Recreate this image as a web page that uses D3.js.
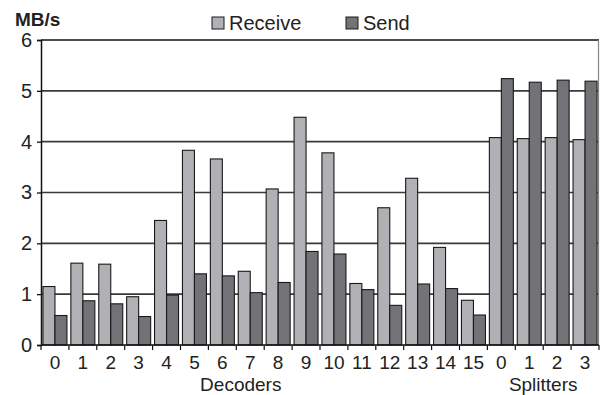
<!DOCTYPE html>
<html>
<head>
<meta charset="utf-8">
<script src="https://cdn.jsdelivr.net/npm/d3@7"></script>
<style>
body { margin:0; background:#fff; }
text { font-family: "Liberation Sans", Arial, sans-serif; fill:#222; }
</style>
</head>
<body>
<div id="chart"></div>
<script>
// bandwidth per node, decoders then splitters

var labels = ["0","1","2","3","4","5","6","7","8","9","10","11","12","13","14","15","0","1","2","3"];
var receive = [1.15,1.61,1.59,0.95,2.45,3.83,3.66,1.45,3.07,4.48,3.78,1.21,2.70,3.28,1.92,0.88,4.08,4.06,4.08,4.04];
var send    = [0.58,0.87,0.81,0.56,0.98,1.40,1.36,1.03,1.23,1.84,1.79,1.09,0.78,1.20,1.11,0.59,5.24,5.17,5.21,5.19];
var yTicks = [0,1,2,3,4,5,6];
var series = ["Receive","Send"];
var colors = ["#b1b1b5","#737377"];

var w = 600,
    h = 395;

var margin = {top:40, right:1, bottom:50, left:41};

var svg = d3.select("#chart")
            .append("svg")
            .attr("width",w)
            .attr("height",h);

var x = d3.scaleBand()
          .domain(d3.range(labels.length))
          .range([margin.left, w - margin.right])
          .paddingInner(0.14)
          .paddingOuter(0.07);

var xs = d3.scaleBand()
           .domain(series)
           .range([0, x.bandwidth()]);

var y = d3.scaleLinear()
          .domain([0,6])
          .range([h - margin.bottom, margin.top]);

// grid lines
svg.append("g")
   .selectAll("line")
   .data(yTicks.slice(1, -1))
   .enter()
   .append("line")
   .attr("x1", margin.left)
   .attr("x2", w - margin.right)
   .attr("y1", function(d){ return y(d); })
   .attr("y2", function(d){ return y(d); })
   .attr("stroke", "#3a3a3a")
   .attr("stroke-width", 1.6);

// top border and right border
svg.append("line")
   .attr("x1", margin.left).attr("x2", w - margin.right)
   .attr("y1", y(6)).attr("y2", y(6))
   .attr("stroke", "#111").attr("stroke-width", 1.3);
svg.append("line")
   .attr("x1", w - margin.right - 0.5).attr("x2", w - margin.right - 0.5)
   .attr("y1", y(6)).attr("y2", y(0))
   .attr("stroke", "#888").attr("stroke-width", 1.2);

// bars
var groups = svg.append("g")
   .selectAll("g")
   .data(labels.map(function(l, i){ return i; }))
   .enter()
   .append("g")
   .attr("transform", function(i){ return "translate(" + x(i) + ",0)"; });

groups.selectAll("rect")
   .data(function(i){ return [{k:"Receive", v:receive[i]}, {k:"Send", v:send[i]}]; })
   .enter()
   .append("rect")
   .attr("x", function(d){ return xs(d.k); })
   .attr("width", xs.bandwidth())
   .attr("y", function(d){ return y(d.v); })
   .attr("height", function(d){ return y(0) - y(d.v); })
   .attr("fill", function(d, j){ return colors[j]; })
   .attr("stroke", "#1a1a1a")
   .attr("stroke-width", 1.1);

// y axis
var yAxis = svg.append("g")
   .attr("transform", "translate(" + margin.left + ",0)")
   .call(d3.axisLeft(y).tickValues(yTicks).tickSize(4).tickPadding(5).tickFormat(d3.format("d")));
yAxis.select(".domain").attr("stroke", "#111").attr("stroke-width", 1.5);
yAxis.selectAll(".tick line").attr("stroke", "#111").attr("stroke-width", 1.3);
yAxis.selectAll("text").attr("font-size", "20px").attr("fill", "#222");

// x axis: baseline plus ticks at the category boundaries
var x0 = svg.append("g");
x0.append("line")
  .attr("x1", margin.left).attr("x2", w - margin.right)
  .attr("y1", y(0)).attr("y2", y(0))
  .attr("stroke", "#111").attr("stroke-width", 1.5);
x0.selectAll(".xt")
  .data(d3.range(labels.length + 1))
  .enter()
  .append("line")
  .attr("class", "xt")
  .attr("x1", function(i){ return margin.left + i * x.step(); })
  .attr("x2", function(i){ return margin.left + i * x.step(); })
  .attr("y1", y(0))
  .attr("y2", y(0) + 5)
  .attr("stroke", "#111")
  .attr("stroke-width", 1.2);
x0.selectAll("text")
  .data(labels)
  .enter()
  .append("text")
  .attr("x", function(d, i){ return x(i) + x.bandwidth()/2; })
  .attr("y", 369)
  .attr("text-anchor", "middle")
  .attr("font-size", "19px")
  .text(function(d){ return d; });

svg.append("text")
   .attr("x", margin.left + 7.16 * x.step())
   .attr("y", 391)
   .attr("text-anchor", "middle")
   .attr("font-size", "19px")
   .text("Decoders");
svg.append("text")
   .attr("x", margin.left + 18 * x.step())
   .attr("y", 391)
   .attr("text-anchor", "middle")
   .attr("font-size", "19px")
   .text("Splitters");

// unit label
svg.append("text")
   .attr("x", 15)
   .attr("y", 26)
   .attr("font-size", "19px")
   .attr("font-weight", "bold")
   .text("MB/s");

// legend
var legendX = [212, 346];
var leg = svg.append("g")
   .selectAll("g")
   .data(series)
   .enter()
   .append("g")
   .attr("transform", function(d, i){ return "translate(" + legendX[i] + ",17)"; });
leg.append("rect")
   .attr("width", 12).attr("height", 12)
   .attr("fill", function(d, i){ return colors[i]; })
   .attr("stroke", "#1a1a1a").attr("stroke-width", 1);
leg.append("text")
   .attr("x", 17)
   .attr("y", 13)
   .attr("font-size", "20px")
   .text(function(d){ return d; });
</script>
</body>
</html>
